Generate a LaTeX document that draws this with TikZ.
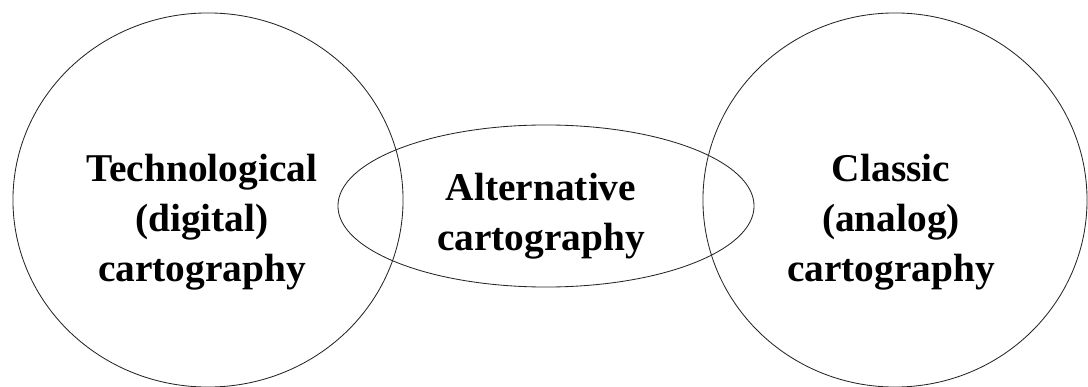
\documentclass[tikz,border=0pt]{standalone}
\usepackage{fontspec}
\setmainfont{Liberation Serif}
\usetikzlibrary{shapes.geometric}
\begin{document}
\begin{tikzpicture}[x=0.025cm, y=-0.025cm,
    region/.style={
        ellipse,
        draw=black!85,
        line width=0.6pt,
        inner sep=0pt
    },
    caption/.style={
        font=\fontsize{28}{35.5}\selectfont\bfseries,
        align=center,
        inner sep=0pt
    }
]
\useasboundingbox (0,0) rectangle (1088,387);

% Regions
\node[region, minimum width=9.75cm, minimum height=9.35cm] (digital) at (208,200) {};
\node[region, minimum width=9.6cm, minimum height=9.35cm] (analog) at (895,200) {};
\node[region, minimum width=10.4cm, minimum height=4.05cm] (alt) at (546,206) {};

% Labels
\node[caption] (digitaltext) at (202,222) {Technological\\(digital)\\cartography};
\node[caption] (analogtext) at (891,222) {Classic\\(analog)\\cartography};
\node[caption] (alttext) at (541,216) {Alternative\\cartography};

\end{tikzpicture}
\end{document}
